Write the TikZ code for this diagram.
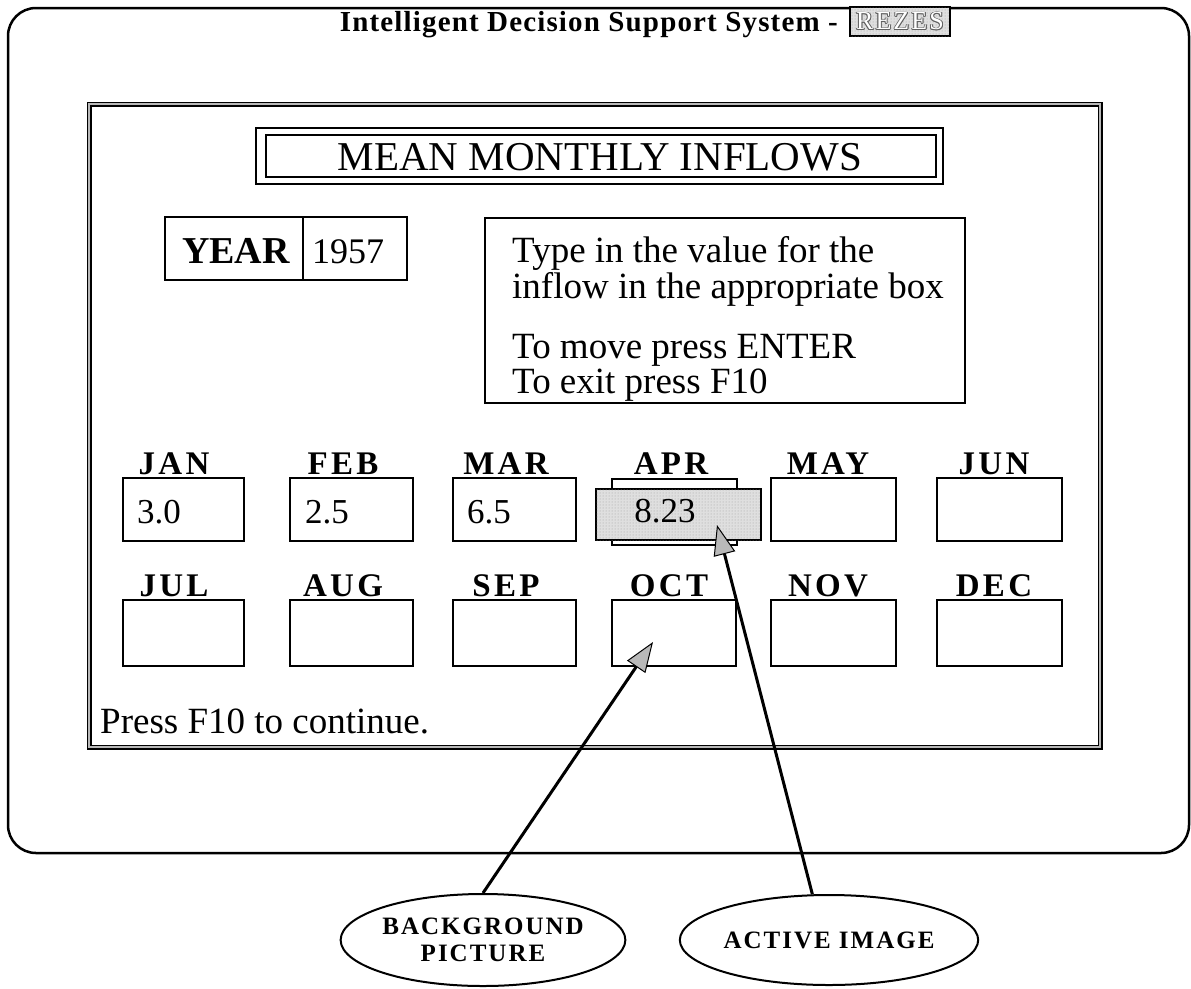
\documentclass[tikz,border=0pt]{standalone}
\usepackage{fontspec}
\setmainfont{Liberation Serif}
\newfontfamily\spacedfont[LetterSpace=8]{Liberation Serif}
\newfontfamily\titlefont[LetterSpace=4]{Liberation Serif}
\newfontfamily\labelfont[LetterSpace=10]{Liberation Serif}
\usetikzlibrary{shapes.geometric,arrows.meta,patterns}

\tikzset{
  frameline/.style={draw=black,line width=2.5pt,rounded corners=28pt},
  monthbox/.style={draw=black,line width=2.2pt,rectangle,inner sep=0pt},
  stipple/.style={fill=gray!25,postaction={pattern=dots,pattern color=gray!75}},
  mlabel/.style={anchor=base,font=\labelfont\bfseries\fontsize{33}{33}\selectfont,inner sep=0pt},
  mvalue/.style={anchor=base west,font=\fontsize{35}{35}\selectfont,inner sep=0pt},
  bodytext/.style={anchor=base west,font=\fontsize{37}{37}\selectfont,inner sep=0pt},
  callout/.style={draw=black,line width=2pt,ellipse,inner sep=0pt,align=center,
    font=\spacedfont\bfseries\fontsize{25}{27}\selectfont},
  pointer/.style={draw=black,line width=3pt,
    -{Triangle[length=30pt,width=22pt,fill=gray!55,line width=1pt]}},
}

\begin{document}
\begin{tikzpicture}[x=1pt,y=-1pt]
  \useasboundingbox (0,0) rectangle (1191,988);

  % outer screen frame
  \draw[frameline] (8,8) rectangle (1189,853);

  % header line
  \node[anchor=base east,inner sep=0pt,font=\titlefont\bfseries\fontsize{29}{29}\selectfont]
    (title) at (838,31) {Intelligent Decision Support System -};
  \node[draw=black,line width=1.5pt,stipple,minimum width=100pt,minimum height=29pt,inner sep=0pt]
    (rezes) at (900,21.5) {};
  \foreach \dx/\dy in {-0.9/0,0.9/0,0/-0.9,0/0.9,-0.7/-0.7,0.7/0.7,-0.7/0.7,0.7/-0.7}
    \node[text=gray!75!black,inner sep=0pt,font=\spacedfont\fontsize{26}{26}\selectfont]
      at ([shift={(\dx,\dy)}]rezes.center) {REZES};
  \node[text=white,inner sep=0pt,font=\spacedfont\fontsize{26}{26}\selectfont]
    (rezestext) at (rezes.center) {REZES};

  % inner window
  \draw[black,line width=5pt] (89,104) rectangle (1100,747);
  \draw[gray!55,line width=2pt] (89,104) rectangle (1100,747);

  % heading box (double border)
  \draw[line width=2.5pt] (256,128) rectangle (943,184);
  \draw[line width=2pt] (266,135) rectangle (936,177);
  \node[inner sep=0pt,font=\fontsize{41}{41}\selectfont] (heading) at (600,157) {MEAN MONTHLY INFLOWS};

  % year field
  \node[monthbox,minimum width=138pt,minimum height=63pt] (yearlbl) at (234,248.5) {};
  \node[monthbox,minimum width=104pt,minimum height=63pt] (yearval) at (355,248.5) {};
  \node[anchor=base,inner sep=0pt,font=\bfseries\fontsize{38}{38}\selectfont] at (236,263) {YEAR};
  \node[anchor=base,inner sep=0pt,font=\fontsize{36}{36}\selectfont] at (348,263) {1957};

  % instruction panel
  \node[monthbox,minimum width=480pt,minimum height=185pt] (help) at (725,310.5) {};
  \node[bodytext] at (512,262) {Type in the value for the};
  \node[bodytext] at (512,298) {inflow in the appropriate box};
  \node[bodytext] at (512,358) {To move press ENTER};
  \node[bodytext] at (512,393) {To exit press F10};

  % first row of months
  \node[monthbox,minimum width=121pt,minimum height=63pt] (jan) at (183.5,509.5) {};
  \node[monthbox,minimum width=123pt,minimum height=63pt] (feb) at (351.5,509.5) {};
  \node[monthbox,minimum width=123pt,minimum height=63pt] (mar) at (514.5,509.5) {};
  \node[monthbox,fill=white,minimum width=125pt,minimum height=66pt] (aprback) at (674.5,512) {};
  \node[monthbox,line width=2.8pt,stipple,minimum width=165pt,minimum height=51pt] (apr) at (678.5,514.5) {};
  \node[monthbox,minimum width=125pt,minimum height=63pt] (may) at (833.5,509.5) {};
  \node[monthbox,minimum width=125pt,minimum height=63pt] (jun) at (999.5,509.5) {};

  \node[mlabel] at (174,474) {JAN};
  \node[mlabel] at (343,474) {FEB};
  \node[mlabel] at (506,474) {MAR};
  \node[mlabel] at (671,474) {APR};
  \node[mlabel] at (828,474) {MAY};
  \node[mlabel] at (994,474) {JUN};

  \node[mvalue] at (137,523) {3.0};
  \node[mvalue] at (305,523) {2.5};
  \node[mvalue] at (467,523) {6.5};
  \node[inner sep=0pt,font=\fontsize{35}{35}\selectfont] at (665,511) {8.23};

  % second row of months
  \node[monthbox,minimum width=121pt,minimum height=66pt] (jul) at (183.5,633) {};
  \node[monthbox,minimum width=123pt,minimum height=66pt] (aug) at (351.5,633) {};
  \node[monthbox,minimum width=123pt,minimum height=66pt] (sep) at (514.5,633) {};
  \node[monthbox,minimum width=124pt,minimum height=66pt] (oct) at (674,633) {};
  \node[monthbox,minimum width=125pt,minimum height=66pt] (nov) at (833.5,633) {};
  \node[monthbox,minimum width=125pt,minimum height=66pt] (dec) at (999.5,633) {};

  \node[mlabel] at (174,596) {JUL};
  \node[mlabel] at (343,596) {AUG};
  \node[mlabel] at (506,596) {SEP};
  \node[mlabel] at (669,596) {OCT};
  \node[mlabel] at (828,596) {NOV};
  \node[mlabel] at (994,596) {DEC};

  % status line
  \node[bodytext] at (100,733) {Press F10 to continue.};

  % callouts
  \node[callout,minimum width=254pt,minimum height=92pt] (bgpic) at (483,940) {BACKGROUND\\PICTURE};
  \node[callout,minimum width=262pt,minimum height=90pt] (active) at (829,940) {ACTIVE IMAGE};
  \coordinate (bgtip) at (653,642);
  \coordinate (activetip) at (717,525);
  \draw[pointer] (bgpic.north) -- (bgtip);
  \draw[pointer] (active.110) -- (activetip);
\end{tikzpicture}
\end{document}
